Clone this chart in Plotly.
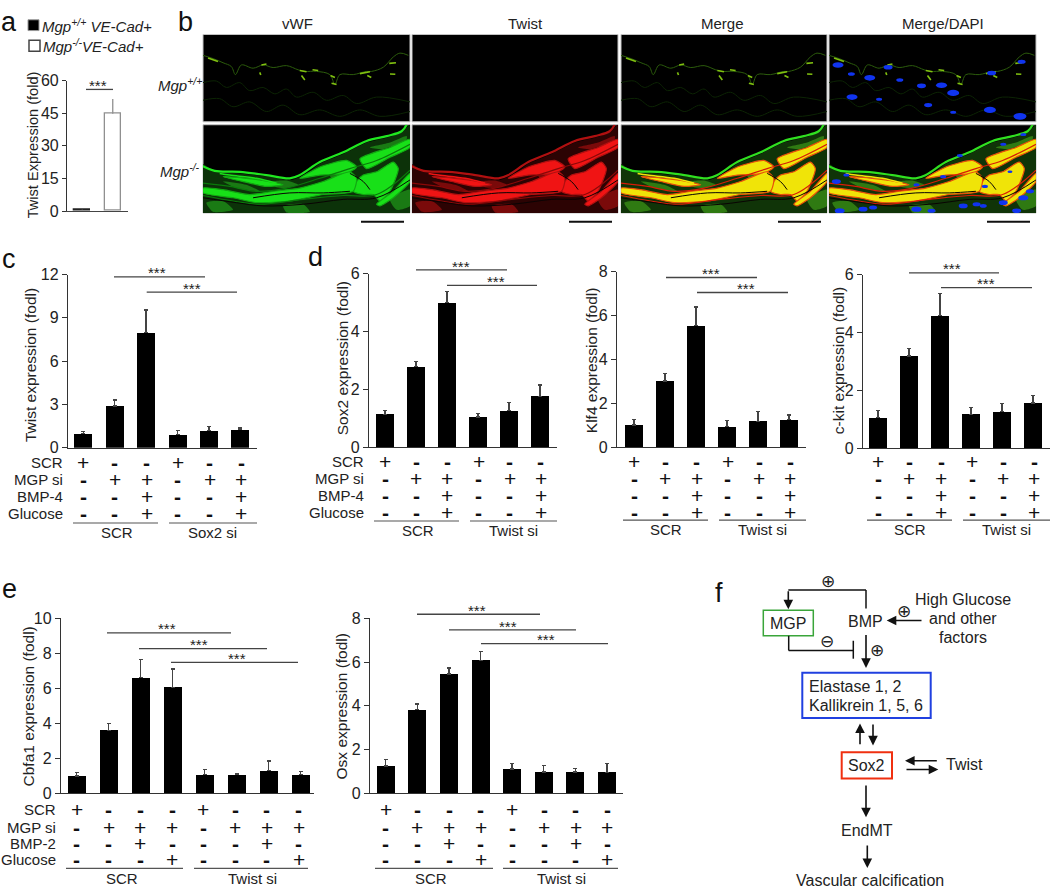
#plot.py
#multi panel figure: bar panels a,c,d,e, micrographs b and pathway diagram f
import plotly.graph_objects as go

W = 1050
H = 895
FONT = 'Liberation Sans, Arial, sans-serif'
DARK = '#222222'

#panel a
A_TICKS = [0, 15, 30, 45, 60]
A_VALUES = [0.8, 44.7]
A_UPPER = [1.0, 51.5]

#panel c
C_TICKS = [0, 3, 6, 9, 12]
C_VALUES = [1.0, 2.9, 8.0, 0.92, 1.2, 1.27]
C_UPPER = [1.15, 3.3, 9.55, 1.22, 1.47, 1.37]

#panel d
SOX2_TICKS = [0, 2, 4, 6]
SOX2_VALUES = [1.15, 2.8, 5.0, 1.05, 1.28, 1.77]
SOX2_UPPER = [1.28, 2.98, 5.38, 1.18, 1.56, 2.16]
KLF4_TICKS = [0, 2, 4, 6, 8]
KLF4_VALUES = [1.03, 3.03, 5.55, 0.95, 1.2, 1.27]
KLF4_UPPER = [1.27, 3.38, 6.4, 1.23, 1.65, 1.48]
CKIT_TICKS = [0, 2, 4, 6]
CKIT_VALUES = [1.06, 3.2, 4.6, 1.18, 1.27, 1.57]
CKIT_UPPER = [1.32, 3.45, 5.35, 1.42, 1.55, 1.83]

#panel e
CBFA1_TICKS = [0, 2, 4, 6, 8, 10]
CBFA1_VALUES = [1.0, 3.6, 6.6, 6.05, 1.07, 1.07, 1.3, 1.07]
CBFA1_UPPER = [1.2, 4.0, 7.65, 7.1, 1.35, 1.13, 1.85, 1.25]
OSX_TICKS = [0, 2, 4, 6, 8]
OSX_VALUES = [1.25, 3.82, 5.45, 6.07, 1.12, 0.98, 0.98, 0.95]
OSX_UPPER = [1.55, 4.08, 5.72, 6.47, 1.38, 1.28, 1.15, 1.38]

#treatment tables
LABELS_BMP4 = ['SCR', 'MGP si', 'BMP-4', 'Glucose']
LABELS_BMP2 = ['SCR', 'MGP si', 'BMP-2', 'Glucose']
ROWS_SIX = ['+--+--', '-++-++', '--+--+', '--+--+']
ROWS_EIGHT = ['+---+---', '-+++-+++', '--+---+-', '---+---+']

#micrograph tracing, in 1/3 pixel units of a panel (620 x 272, y down)
TOP_EDGE = [(0,65),(30,75),(60,88),(85,100),(97,125),(115,95),(150,105),(180,95),(210,103),(250,97),(285,110),
            (305,115),(340,115),(380,125),(395,155),(410,125),(450,125),(490,115),(505,115),(540,102),(570,70),
            (590,58),(615,65)]
TOP_WAVES = [[(0,150),(40,145),(70,165),(110,150),(140,175),(180,165),(215,185),(250,170),(280,195),(330,180),(370,205),(420,190),(460,215),(520,195),(620,210)],
             [(0,205),(50,200),(90,225),(140,210),(190,240),(240,220),(290,250),(350,235),(410,255),(470,235),(530,255),(620,240)]]
TOP_STREAKS = [[(15,73),(45,84)], [(175,95),(190,92)], [(290,112),(310,116)], [(328,110),(345,112)], [(382,128),(395,134)],
               [(385,152),(400,156)], [(470,122),(500,116)], [(492,128),(504,134)], [(558,90),(578,88)], [(560,123),(576,124)],
               [(295,128),(305,142)], [(170,118),(173,126)]]
BOTTOM_EDGE = [(-5,125),(35,142),(110,145),(190,155),(260,165),(290,155),(350,115),(420,85),(490,50),(550,35),(595,20),(610,0)]
BOTTOM_THIN = [(50,150),(80,155),(160,165),(220,180)]
TISSUE = [(0,122),(30,140),(110,150),(200,160),(265,170),(310,150),(350,120),(420,90),(490,55),(550,40),(595,25),(620,0),(620,272),(0,272)]
PATCHES = [[(10,240),(60,235),(90,262),(30,268)],
           [(240,250),(300,245),(320,268),(250,270)],
           [(560,230),(620,200),(620,250),(580,262)],
           [(500,70),(560,55),(610,35),(610,45),(540,75)],
           [(60,175),(130,185),(170,205),(100,195)],
           [(210,175),(250,172),(285,185),(250,195),(215,190)],
           [(380,155),(440,150),(450,170),(390,172)]]
BANDS = [[(290,165),(350,130),(430,110),(460,130),(430,150),(350,155)],
         [(470,105),(560,70),(620,45),(620,70),(560,100),(490,135)],
         [(460,175),(480,155),(520,145),(570,115),(585,135),(560,205),(530,235),(510,215),(480,215),(450,205)],
         [(0,195),(60,200),(140,215),(210,205),(290,195),(360,175),(440,145),(460,165),(450,205),(360,215),(260,235),(160,240),(90,225),(0,210)],
         [(60,160),(130,165),(200,175),(240,185),(190,190),(120,175)],
         [(520,245),(570,205),(620,150),(620,175),(570,225),(530,250)]]
STREAKS = [[(0,180),(80,190),(160,205),(250,195),(350,165),(440,135),(520,110),(620,60)],
           [(0,218),(90,235),(170,245),(300,230),(420,218),(520,215),(620,140)]]
CRACKS = [[(150,225),(260,210),(360,210),(440,205)],
          [(0,225),(100,240),(180,250),(300,245),(420,230),(520,225),(620,170)],
          [(440,150),(480,175),(500,200)]]
DAPI_TOP = [(27,95,11),(67,123,7),(122,135,11),(177,102,9),(212,142,7),(277,160,9),(337,158,11),(372,182,12),(69,195,11),
            (297,220,8),(482,235,12),(572,255,13),(487,120,9),(577,85,8),(150,202,6),(372,242,6)]
DAPI_BOTTOM = [(52,155,6),(102,260,9),(132,255,8),(262,260,10),(307,265,8),(402,250,9),(442,245,8),(522,240,9),(582,225,10),
               (562,265,9),(462,250,7),(22,175,9),(522,60,6),(582,30,6),(392,95,6),(262,185,6),(342,160,6),(467,190,6),
               (32,265,10),(602,205,8),(542,145,5)]

fig = go.Figure()
shapes = []
annots = []
nAxes = 0


def px(x):
    return x / W


def py(y):
    return 1 - y / H


def addAxes(left, right, top, bottom, xDict, yDict):
    #a new pair of axes that covers the given pixel box
    global nAxes
    nAxes += 1
    suffix = '' if nAxes == 1 else str(nAxes)
    xDict['domain'] = [px(left), px(right)]
    yDict['domain'] = [py(bottom), py(top)]
    xDict['anchor'] = 'y' + suffix
    yDict['anchor'] = 'x' + suffix
    fig.layout['xaxis' + suffix] = xDict
    fig.layout['yaxis' + suffix] = yDict
    return 'x' + suffix, 'y' + suffix


def text(x, y, s, size=15, xanchor='center', angle=0, color=DARK, family=FONT):
    annots.append(dict(x=px(x), y=py(y), xref='paper', yref='paper', text=s, showarrow=False, xanchor=xanchor,
                       yanchor='middle', textangle=angle, font=dict(size=size, color=color, family=family),
                       borderpad=0, borderwidth=0))


def line(x0, y0, x1, y1, color='#444444', width=1.3):
    shapes.append(dict(type='line', xref='paper', yref='paper', x0=px(x0), y0=py(y0), x1=px(x1), y1=py(y1),
                       line=dict(color=color, width=width)))


def box(x0, y0, x1, y1, color, width=1.5, fill='rgba(0,0,0,0)'):
    shapes.append(dict(type='rect', xref='paper', yref='paper', x0=px(x0), y0=py(y0), x1=px(x1), y1=py(y1),
                       line=dict(color=color, width=width), fillcolor=fill, layer='below'))


def arrow(x0, y0, x1, y1, head=2, width=1.6):
    annots.append(dict(x=px(x1), y=py(y1), xref='paper', yref='paper', ax=x0 - x1, ay=y0 - y1, axref='pixel', ayref='pixel',
                       text='', showarrow=True, arrowhead=head, arrowsize=1.2, arrowwidth=width, arrowcolor='#111111'))


def barPanel(values, upper, ticks, centers, left, right, top, bottom, ymax, ylabel, labelPos):
    step = centers[1] - centers[0]
    xRange = [(left - centers[0]) / step, (right - centers[0]) / step]
    xa, ya = addAxes(left, right, top, bottom,
                     dict(range=xRange, showgrid=False, zeroline=False, showticklabels=False, ticks='',
                          showline=True, linecolor='#333333', linewidth=1.3),
                     dict(range=[0, ymax], tickvals=ticks, showgrid=False, zeroline=False, ticks='outside', ticklen=5,
                          tickwidth=1.2, tickcolor='#333333', showline=True, linecolor='#333333', linewidth=1.3,
                          tickfont=dict(size=16, family=FONT, color=DARK)))
    fig.add_trace(go.Bar(x=list(range(len(values))), y=values, xaxis=xa, yaxis=ya, width=18 / step,
                         marker=dict(color='black', line=dict(width=0)),
                         error_y=dict(type='data', symmetric=False, array=[u - v for u, v in zip(upper, values)],
                                      arrayminus=[0] * len(values), color='#444444', thickness=1.3, width=2)))
    text(labelPos[0], labelPos[1], ylabel, size=15.5, angle=-90)


def table(centers, rows, labels, rowY, labelX):
    for r, row in enumerate(rows):
        for c, flag in zip(centers, row):
            if flag == '+':
                text(c, rowY[r], '+', size=21, color='#111111')
            else:
                text(c, rowY[r], '<b>-</b>', size=21, color='#111111')
        if labels:
            text(labelX, rowY[r], labels[r], xanchor='right')


def groups(lineY, textY, spans, names, textX):
    for span, name, tx in zip(spans, names, textX):
        line(span[0], lineY, span[1], lineY, color='#555555', width=1.1)
        text(tx, textY, name)


def sig(spans):
    for x0, x1, y, xs in spans:
        line(x0, y, x1, y)
        text(xs, y - 4, '***', size=15)


def poly(xa, ya, pts, fill, lineColor=None, lineWidth=0):
    xs = [p[0] for p in pts] + [pts[0][0]]
    ys = [p[1] for p in pts] + [pts[0][1]]
    fig.add_trace(go.Scatter(x=xs, y=ys, xaxis=xa, yaxis=ya, mode='lines', fill='toself', fillcolor=fill,
                             line=dict(color=lineColor or fill, width=lineWidth, shape='spline', smoothing=0.6),
                             hoverinfo='skip'))


def path(xa, ya, pts, color, width):
    fig.add_trace(go.Scatter(x=[p[0] for p in pts], y=[p[1] for p in pts], xaxis=xa, yaxis=ya, mode='lines',
                             line=dict(color=color, width=width, shape='spline'), hoverinfo='skip'))


def dapi(xa, ya, blobs):
    #nuclei are wider than tall, the third number is their width in pixels
    for bx, by, size in blobs:
        shapes.append(dict(type='circle', xref=xa, yref=ya, x0=bx - 1.5 * size, x1=bx + 1.5 * size, y0=by - 0.8 * size,
                           y1=by + 0.8 * size, fillcolor='#1034f0', line=dict(width=0)))


def micrograph(left, right, top, bottom, mode, lower):
    xa, ya = addAxes(left, right, top, bottom,
                     dict(range=[0, 620], visible=False, fixedrange=True),
                     dict(range=[272, 0], visible=False, fixedrange=True))
    box(left, top, right, bottom, '#c4c4c4', width=1, fill='black')
    if mode == 'red' and not lower:
        #Twist is not detected in the top row
        return
    if not lower:
        for wave in TOP_WAVES:
            path(xa, ya, wave, '#0c2404', 1)
        path(xa, ya, TOP_EDGE, '#2c5c0c', 1)
        for streak in TOP_STREAKS:
            fig.add_trace(go.Scatter(x=[p[0] for p in streak], y=[p[1] for p in streak], xaxis=xa, yaxis=ya, mode='lines',
                                     line=dict(color='#80c010', width=1.6), hoverinfo='skip'))
        if mode == 'dapi':
            dapi(xa, ya, DAPI_TOP)
        return
    if mode == 'green':
        tissue, patch, band, rim, streak, edge = '#0c3209', '#1a7a14', '#18e018', '#12a812', '#0a7a0a', '#20e820'
    elif mode == 'red':
        tissue, patch, band, rim, streak, edge = '#2c0303', '#7a0a0a', '#f01414', '#b01010', '#8a0808', '#b01010'
    else:
        tissue, patch, band, rim, streak, edge = '#103408', '#2f7a12', '#f0e408', '#e8500a', '#d81c08', '#30e020'
    poly(xa, ya, TISSUE, tissue)
    for p in PATCHES:
        poly(xa, ya, p, patch)
    for b in BANDS:
        poly(xa, ya, b, band, rim, 1.2)
    for s in STREAKS:
        path(xa, ya, s, streak, 1.2)
    path(xa, ya, BOTTOM_EDGE, edge, 2.2)
    path(xa, ya, BOTTOM_THIN, band, 1.5)
    for crack in CRACKS:
        path(xa, ya, crack, '#0a0404', 1)
    if mode == 'dapi':
        dapi(xa, ya, DAPI_BOTTOM)


#panel a
xa, ya = addAxes(67, 128, 74, 207,
                 dict(range=[-0.5, 1.5], showgrid=False, zeroline=False, showticklabels=False, ticks='', showline=True,
                      linecolor='#444444', linewidth=1.3),
                 dict(range=[0, 60], tickvals=A_TICKS, showgrid=False, zeroline=False, ticks='outside', ticklen=4,
                      tickwidth=1.2, tickcolor='#333333', showline=True, linecolor='#333333', linewidth=1.2,
                      tickfont=dict(size=16, family=FONT, color=DARK)))
fig.add_trace(go.Bar(x=[0, 1], y=A_VALUES, xaxis=xa, yaxis=ya, width=0.54,
                     marker=dict(color=['black', 'white'], line=dict(color=['#222222', '#909090'], width=1.3)),
                     error_y=dict(type='data', symmetric=False, array=[u - v for u, v in zip(A_UPPER, A_VALUES)],
                                  arrayminus=[0, 0], color='#909090', thickness=1.3, width=0)))
text(33, 140, 'Twist Expression (fold)', size=14.6, angle=-90)
sig([(86, 113, 83, 98)])
box(28, 12, 39, 23, '#999999', width=1, fill='black')
box(29, 33, 40, 44, '#444444', width=1.5, fill='white')
text(42, 18, '<i>Mgp<sup>+/+</sup> VE-Cad+</i>', xanchor='left')
text(43, 38, '<i>Mgp<sup>-/-</sup>VE-Cad+</i>', xanchor='left')

#panel b
COLS = [(203, 410, 'green', 'vWF', 297), (412, 618, 'red', 'Twist', 525), (621, 827, 'merge', 'Merge', 722),
        (829, 1036, 'dapi', 'Merge/DAPI', 943)]
for l, r, mode, title, tx in COLS:
    micrograph(l, r, 27, 116, mode, False)
    micrograph(l, r, 119, 209, mode, True)
    text(tx, 16, title, size=15)
    line(r - 49, 218, r - 6, 218, color='#111111', width=2)
text(158, 78, '<i>Mgp<sup>+/+</sup></i>', xanchor='left')
text(160, 166, '<i>Mgp<sup>-/-</sup></i>', xanchor='left')

#panel c
centers = [83.3, 114.7, 146.7, 177.7, 209.7, 241]
barPanel(C_VALUES, C_UPPER, C_TICKS, centers, 68, 257, 271.7, 448.3, 12, 'Twist expression (fodl)', (30, 364))
table(centers, ROWS_SIX, LABELS_BMP4, [463, 481, 498, 515], 63)
groups(525, 535, [(73, 158), (169, 257)], ['SCR', 'Sox2 si'], [117, 212])
sig([(114, 205, 274, 157), (146.7, 237, 289.7, 192)])

#panel d
centers = [385, 416, 447.3, 478.7, 509.7, 540.7]
barPanel(SOX2_VALUES, SOX2_UPPER, SOX2_TICKS, centers, 369, 557, 271, 448, 6, 'Sox2 expression (fodl)', (342, 357))
table(centers, ROWS_SIX, LABELS_BMP4, [462, 480, 497, 514], 364)
groups(523, 533, [(374, 459), (470, 557)], ['SCR', 'Twist si'], [418, 513])
sig([(416, 507, 267, 461), (447, 537, 282.7, 496)])

centers = [634, 665, 696.5, 727.7, 759, 790]
barPanel(KLF4_VALUES, KLF4_UPPER, KLF4_TICKS, centers, 617, 806, 269, 448, 8, 'Klf4 expression (fodl)', (591, 359))
table(centers, ROWS_SIX, None, [462, 480, 497, 514], 0)
groups(522, 532, [(623, 708), (719, 806)], ['SCR', 'Twist si'], [666, 762])
sig([(666, 757, 274.7, 711), (697, 788, 290, 746)])

centers = [878, 909, 941, 972, 1003, 1034]
barPanel(CKIT_VALUES, CKIT_UPPER, CKIT_TICKS, centers, 863, 1050, 272, 449, 6, 'c-kit expression (fodl)', (838, 360))
table(centers, ROWS_SIX, None, [462, 480, 497, 514], 0)
groups(522, 532, [(867, 952), (963, 1050)], ['SCR', 'Twist si'], [910, 1006])
sig([(909, 999, 270, 952), (941, 1032, 285, 986)])

#panel e
centers = [76.7, 108.7, 140, 172, 203.3, 235, 266.7, 298.7]
barPanel(CBFA1_VALUES, CBFA1_UPPER, CBFA1_TICKS, centers, 61, 314, 622, 800.7, 10, 'Cbfa1 expression (fodl)', (28, 712))
table(centers, ROWS_EIGHT, LABELS_BMP2, [817, 835, 852, 868], 56)
groups(877, 887, [(66, 183), (194, 308)], ['SCR', 'Twist si'], [122, 252])
sig([(107, 231, 637, 167), (139, 267, 653, 199), (171, 298, 667, 237)])

centers = [385.7, 417.3, 449, 480.7, 512, 544, 575.7, 607.3]
barPanel(OSX_VALUES, OSX_UPPER, OSX_TICKS, centers, 370, 623, 622, 800.7, 8, 'Osx expression (fodl)', (341, 712))
table(centers, ROWS_EIGHT, None, [817, 835, 852, 868], 0)
groups(877, 887, [(375, 493), (503, 618)], ['SCR', 'Twist si'], [431, 561])
sig([(417, 540, 618, 477), (449, 576, 634, 508), (481, 608, 648, 546)])

#panel f
box(763.3, 614, 813.3, 640, '#3aa53a')
text(788.3, 627, 'MGP', size=16)
text(865.7, 625.7, 'BMP', size=16)
line(866, 612, 866, 593.3, color='#111111', width=1.5)
line(866, 593.3, 788.3, 593.3, color='#111111', width=1.5)
arrow(788.3, 593.3, 788.3, 613)
text(827.7, 584, '⊕', size=17, family='DejaVu Sans')
arrow(923, 624.3, 886.7, 624.3)
text(904.3, 614.3, '⊕', size=17, family='DejaVu Sans')
text(963, 603.3, 'High Glucose', size=16)
text(963, 622.3, 'and other', size=16)
text(963, 641.7, 'factors', size=16)
line(788.7, 640, 788.7, 655, color='#111111', width=1.5)
line(788.7, 655, 853.3, 655, color='#111111', width=1.5)
line(853.3, 645, 853.3, 663.3, color='#111111', width=1.5)
text(827, 645.7, '⊖', size=17, family='DejaVu Sans')
arrow(866, 638.3, 866, 672.7)
text(877.3, 654.7, '⊕', size=17, family='DejaVu Sans')
box(802.3, 677.7, 930.7, 723.7, '#2040e0', width=2)
text(809.3, 692, 'Elastase 1, 2', size=16, xanchor='left')
text(809.3, 710.7, 'Kallikrein 1, 5, 6', size=16, xanchor='left')
arrow(860, 751.7, 860, 729.3)
arrow(873, 729.3, 873, 751.7)
box(841.7, 758.7, 892, 785.3, '#f03010', width=2)
text(866.7, 772, 'Sox2', size=16)
arrow(938.3, 767.3, 905, 767.3)
arrow(905, 776.3, 938.3, 776.3)
text(964.3, 771.3, 'Twist', size=16)
arrow(866, 791.7, 866, 825)
text(866.7, 838.7, 'EndMT', size=16)
arrow(867.3, 852.7, 867.3, 876.7)
text(870, 889, 'Vascular calcification', size=16)

#panel letters
for letter, lx, ly in [('a', 9, 14), ('b', 185, 14), ('c', 9, 256), ('d', 315, 254), ('e', 9, 592), ('f', 719, 596)]:
    text(lx, ly, letter, size=27, color='#111111')

fig.update_layout(width=W, height=H, autosize=False, margin=dict(l=0, r=0, t=0, b=0), showlegend=False, hovermode=False,
                  paper_bgcolor='white', plot_bgcolor='rgba(0,0,0,0)', font=dict(family=FONT, color=DARK),
                  shapes=shapes, annotations=annots, bargap=0)

fig.write_html("out.html", config={'displayModeBar': False},
               post_script="document.body.style.margin='0';document.body.style.overflow='hidden';")
